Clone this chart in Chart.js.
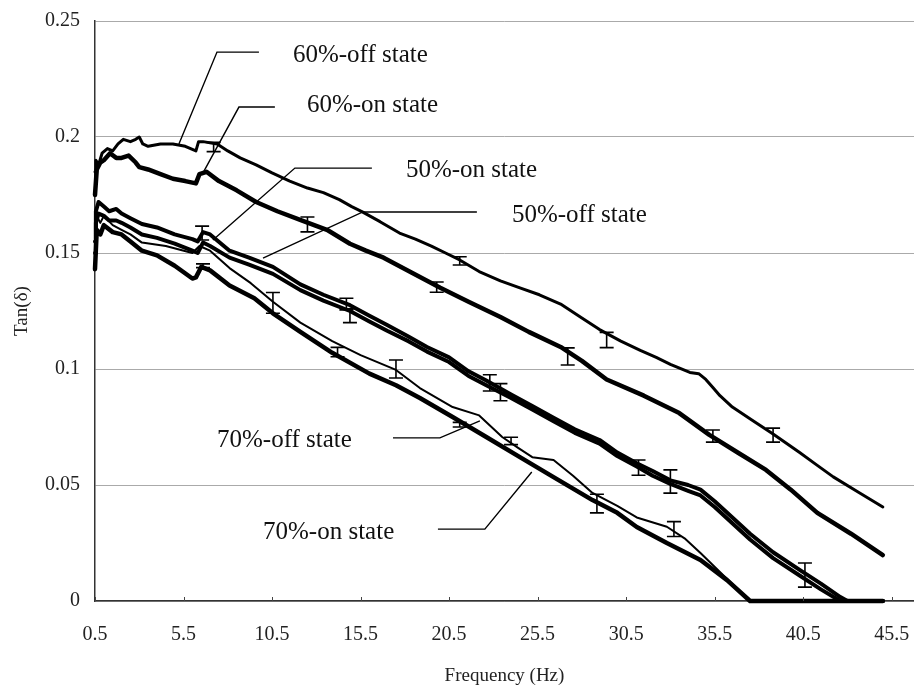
<!DOCTYPE html>
<html>
<head>
<meta charset="utf-8">
<script src="https://cdn.jsdelivr.net/npm/chart.js@4/dist/chart.umd.min.js"></script>
<style>
  body { margin: 0; background: #fff; }
  #wrap { width: 914px; height: 691px; }
</style>
</head>
<body>
<div id="wrap"><canvas id="myChart" width="914" height="691"></canvas></div>
<script>
// axis ticks
const xTicks = [0.5, 5.5, 10.5, 15.5, 20.5, 25.5, 30.5, 35.5, 40.5, 45.5];
const yTicks = [0, 0.05, 0.1, 0.15, 0.2, 0.25];

// 60%-off state
const off60F = [0.5,0.55,0.7,0.9,1.2,1.5,1.8,2.1,2.5,2.8, 3.0,3.2,3.5,4.2,4.9,5.6,6.2,6.35,6.6,7.4, 8.0,8.7,9.6,10.5,11.5,12.5,13.4,14.3,15.0,15.6, 16.6,17.7,18.6,19.5,20.3,21.1,22.2,23.4,24.5,25.6, 26.8,28.0,29.0,30.2,31.3,32.2,33.0,34.1,34.6,35.0, 35.4,35.8,36.5,37.6,38.8,40.3,41.2,42.2,43.6,45.0];
const off60V = [0.185,0.19,0.188,0.193,0.195,0.194,0.197,0.199,0.198,0.199, 0.200,0.197,0.196,0.197,0.197,0.196,0.194,0.198,0.198,0.197, 0.194,0.191,0.188,0.1845,0.181,0.178,0.176,0.173,0.170,0.1677, 0.1635,0.1586,0.156,0.153,0.150,0.147,0.142,0.138,0.135,0.132, 0.128,0.122,0.117,0.112,0.108,0.105,0.102,0.0985,0.098,0.0955, 0.092,0.0885,0.0836,0.078,0.072,0.064,0.059,0.0535,0.047,0.0405];

// 60%-on state
const on60F = [0.5,0.6,0.8,1.0,1.35,1.7,2.0,2.4,2.8,3.0, 3.5,4.2,4.9,5.6,6.2,6.4,6.8,7.5,8.5,9.6, 10.8,12.2,13.6,14.9,15.8,16.8,18.4,20.0,21.6,23.4, 25.0,26.8,28.0,29.4,31.5,33.5,35.2,36.8,38.4,39.8, 41.3,43.2,45.0];
const on60V = [0.175,0.186,0.189,0.190,0.193,0.191,0.191,0.192,0.189,0.187, 0.186,0.184,0.182,0.181,0.180,0.184,0.185,0.181,0.177,0.172, 0.168,0.164,0.160,0.154,0.151,0.148,0.1415,0.135,0.129,0.1224, 0.116,0.1095,0.1035,0.0955,0.0885,0.081,0.0716,0.064,0.0565,0.048, 0.038,0.029,0.0198];

// 50% states (same frequency steps)
const freq50 = [0.5,0.55,0.7,1.0,1.3,1.7,2.0,2.5,3.15,4.0, 5.0,6.0,6.3,6.6,7.0,8.1,9.2,10.55,12.1,13.4, 14.9,16.0,17.0,18.2,19.25,20.5,21.6,22.6,24.0,25.2, 26.4,27.6,29.0,30.0,31.1,32.0,33.0,34.0,34.7,35.5, 36.5,37.5,38.8,40.3,41.5,42.6,43.0,45.0];
const on50V = [0.150,0.168,0.172,0.170,0.168,0.169,0.167,0.165,0.1625,0.161, 0.158,0.156,0.155,0.159,0.158,0.151,0.148,0.144,0.1365,0.132, 0.1275,0.123,0.119,0.114,0.1095,0.105,0.099,0.095,0.089,0.084, 0.079,0.074,0.0694,0.064,0.0594,0.056,0.052,0.050,0.048,0.043, 0.036,0.029,0.021,0.0134,0.0075,0.0017,0,0];
const off50V = [0.155,0.163,0.167,0.166,0.164,0.164,0.163,0.161,0.158,0.1565, 0.154,0.151,0.150,0.1545,0.153,0.148,0.145,0.141,0.134,0.1295, 0.125,0.1205,0.1165,0.112,0.1075,0.103,0.097,0.093,0.0875,0.0825, 0.0775,0.0725,0.0678,0.0625,0.058,0.054,0.0505,0.0475,0.0455,0.0405, 0.0335,0.0265,0.0185,0.011,0.005,0,0,0];

// 70%-off state
const off70F = [0.5,0.6,0.8,1.0,1.5,2.0,2.5,3.15,4.5,6.0, 6.4,7.0,8.1,9.3,10.55,12.1,13.9,15.5,17.5,18.85, 20.7,22.2,23.5,24.4,25.2,26.4,27.5,28.6,30.0,31.1, 32.8,33.8,34.7,36.0,37.5,45.0];
const off70V = [0.160,0.166,0.163,0.166,0.162,0.160,0.158,0.1545,0.153,0.150, 0.153,0.151,0.1435,0.137,0.129,0.12,0.112,0.106,0.0996,0.0918, 0.0836,0.080,0.0707,0.066,0.062,0.0608,0.054,0.0466,0.041,0.036, 0.032,0.027,0.0207,0.011,0,0];

// 70%-on state
const on70F = [0.5,0.6,0.8,1.0,1.5,2.0,2.5,3.15,4.0,5.0, 6.0,6.2,6.5,7.0,8.1,9.5,10.55,12.1,13.9,16.0, 17.5,18.85,20.7,22.6,24.5,26.4,28.6,30.0,31.1,32.8, 34.7,36.2,37.5,45.0];
const on70V = [0.143,0.160,0.158,0.162,0.159,0.158,0.155,0.151,0.149,0.1445, 0.139,0.1395,0.144,0.1425,0.136,0.1305,0.124,0.116,0.107,0.098, 0.093,0.0875,0.0793,0.0707,0.062,0.0534,0.0435,0.038,0.0319,0.025, 0.0177,0.009,0,0];

// error bars: frequency, centre value, half height
const errFreq = [7.2, 21.1, 29.4, 38.8, 12.5, 19.8, 27.2, 35.4, 6.55, 14.7, 14.9, 22.8, 23.4, 31.2, 33.0, 40.6, 6.6, 10.55, 14.2, 17.5, 21.1, 24.0, 28.85, 33.2];
const errVal  = [0.1957, 0.1466, 0.1125, 0.0715, 0.1623, 0.1353, 0.1054, 0.0711, 0.1586, 0.128, 0.123, 0.094, 0.090, 0.0575, 0.0515, 0.0112, 0.1445, 0.1285, 0.1073, 0.100, 0.076, 0.069, 0.042, 0.031];
const errHalf = [0.002, 0.0018, 0.0033, 0.003, 0.0032, 0.0022, 0.0037, 0.0026, 0.003, 0.0025, 0.003, 0.0035, 0.0037, 0.0033, 0.005, 0.0052, 0.0008, 0.0045, 0.002, 0.0039, 0.001, 0.0016, 0.004, 0.0032];

// callout labels: text, text start, then leader end / elbow / tip (all in axis units)
const calloutText = ['60%-off state', '60%-on state', '50%-on state', '50%-off state', '70%-off state', '70%-on state'];
const calloutAt   = [[11.68, 0.2353], [12.47, 0.2134], [18.06, 0.1858], [24.05, 0.1664], [7.39, 0.0694], [9.99, 0.0297]];
const leaderPath  = [
    [[9.76, 0.2366], [7.39, 0.2366], [5.24, 0.197]],
    [[10.66, 0.2129], [8.63, 0.2129], [6.6, 0.1845]],
    [[16.14, 0.1866], [11.79, 0.1866], [7.16, 0.1556]],
    [[22.07, 0.1677], [15.63, 0.1677], [9.99, 0.1478]],
    [[17.33, 0.0703], [19.98, 0.0703], [22.24, 0.0776]],
    [[19.87, 0.031], [22.52, 0.031], [25.17, 0.0556]]
];

const SERIF = '"Liberation Serif", "Times New Roman", serif';

function pts(fs, vs) { return fs.map((f, i) => ({ x: f, y: vs[i] })); }

function series(label, fs, vs, w) {
    return {
        label: label,
        data: pts(fs, vs),
        borderColor: '#000',
        borderWidth: w,
        pointRadius: 0,
        tension: 0,
        borderJoinStyle: 'round',
        borderCapStyle: 'round',
        clip: false
    };
}

// error bars, inward x ticks, callouts
const extras = {
    id: 'extras',
    afterDatasetsDraw(chart) {
        const ctx = chart.ctx;
        const xs = chart.scales.x, ys = chart.scales.y;
        ctx.save();
        ctx.strokeStyle = '#000';
        ctx.lineWidth = 1.6;
        errFreq.forEach((f, i) => {
            const px = xs.getPixelForValue(f);
            const top = ys.getPixelForValue(errVal[i] + errHalf[i]);
            const bot = ys.getPixelForValue(errVal[i] - errHalf[i]);
            ctx.beginPath();
            ctx.moveTo(px, top); ctx.lineTo(px, bot);
            ctx.moveTo(px - 7, top); ctx.lineTo(px + 7, top);
            ctx.moveTo(px - 7, bot); ctx.lineTo(px + 7, bot);
            ctx.stroke();
        });

        // inward tick marks on the frequency axis
        ctx.strokeStyle = '#444';
        ctx.lineWidth = 1;
        const y0 = ys.getPixelForValue(0);
        xTicks.forEach(t => {
            const px = Math.round(xs.getPixelForValue(t)) + 0.5;
            ctx.beginPath();
            ctx.moveTo(px, y0); ctx.lineTo(px, y0 - 4);
            ctx.stroke();
        });

        // leader lines and labels
        ctx.strokeStyle = '#000';
        ctx.lineWidth = 1.4;
        leaderPath.forEach(path => {
            ctx.beginPath();
            path.forEach((p, j) => {
                const px = xs.getPixelForValue(p[0]), py = ys.getPixelForValue(p[1]);
                if (j === 0) ctx.moveTo(px, py); else ctx.lineTo(px, py);
            });
            ctx.stroke();
        });
        ctx.fillStyle = '#111';
        ctx.font = '25px ' + SERIF;
        ctx.textAlign = 'left';
        ctx.textBaseline = 'middle';
        calloutText.forEach((t, i) => {
            ctx.fillText(t, xs.getPixelForValue(calloutAt[i][0]), ys.getPixelForValue(calloutAt[i][1]));
        });
        ctx.restore();
    }
};

const ctx = document.getElementById('myChart').getContext('2d');
const myChart = new Chart(ctx, {
    type: 'line',
    data: {
        datasets: [
            series('60%-off state', off60F, off60V, 3),
            series('60%-on state', on60F, on60V, 4.5),
            series('50%-on state', freq50, on50V, 4),
            series('50%-off state', freq50, off50V, 4),
            series('70%-off state', off70F, off70V, 2),
            series('70%-on state', on70F, on70V, 4.5)
        ]
    },
    options: {
        responsive: false,
        animation: false,
        layout: { padding: { top: 21, right: 0, left: 0, bottom: 0 } },
        plugins: { legend: { display: false }, tooltip: { enabled: false } },
        scales: {
            x: {
                type: 'linear',
                min: 0.5,
                max: 46.76,
                afterBuildTicks: s => { s.ticks = xTicks.map(v => ({ value: v })); },
                afterFit: s => { s.height = 90; },
                grid: { display: true, drawOnChartArea: false, drawTicks: true, tickLength: 22, tickColor: 'rgba(0,0,0,0)' },
                border: { display: true, color: '#333', width: 1.5 },
                ticks: {
                    padding: 0,
                    color: '#222',
                    font: { family: SERIF, size: 20 },
                    maxRotation: 0,
                    callback: v => String(v)
                },
                title: {
                    display: true,
                    text: 'Frequency (Hz)',
                    color: '#222',
                    font: { family: SERIF, size: 19 },
                    padding: { top: 0, bottom: 4 }
                }
            },
            y: {
                min: 0,
                max: 0.25,
                afterBuildTicks: s => { s.ticks = yTicks.map(v => ({ value: v })); },
                afterFit: s => { s.width = 95; },
                grid: { color: '#aaa', lineWidth: 1, drawTicks: true, tickLength: 15, tickColor: 'rgba(0,0,0,0)' },
                border: { display: true, color: '#333', width: 1.5 },
                ticks: {
                    padding: 0,
                    color: '#222',
                    font: { family: SERIF, size: 20 },
                    callback: v => String(v)
                },
                title: {
                    display: true,
                    text: 'Tan(δ)',
                    color: '#222',
                    font: { family: SERIF, size: 19 },
                    padding: { top: 11, bottom: 0 }
                }
            }
        }
    },
    plugins: [extras]
});
</script>
</body>
</html>
